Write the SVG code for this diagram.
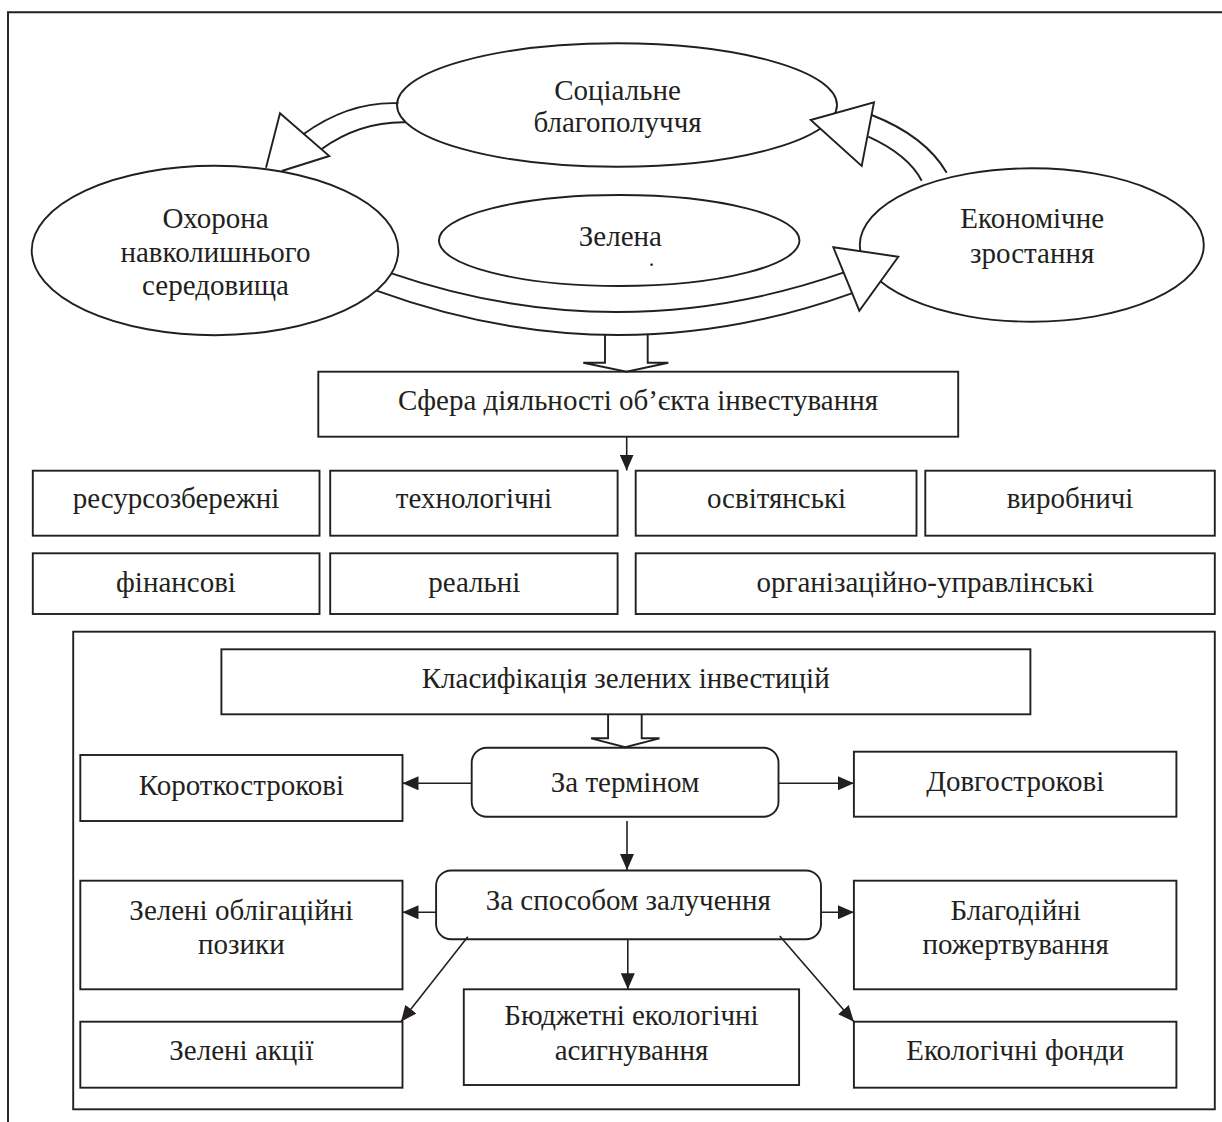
<svg xmlns="http://www.w3.org/2000/svg" width="1222" height="1122" viewBox="0 0 1222 1122">
<defs>
<style>
.s{fill:none;stroke:#231f20;stroke-width:1.9}
.n{fill:#fff;stroke:#231f20;stroke-width:1.9}
.c{fill:none;stroke:#231f20;stroke-width:1.6}
.h{fill:#fff;stroke:#231f20;stroke-width:1.9;stroke-linejoin:miter}
.t{font-family:"Liberation Serif","Times New Roman",serif;font-size:29px;fill:#231f20;text-anchor:middle}
.d{font-family:"Liberation Serif","Times New Roman",serif;font-size:16px;font-weight:bold;fill:#231f20;text-anchor:middle}
</style>
<marker id="ah" viewBox="0 0 16 14" refX="16" refY="7" markerWidth="16" markerHeight="14" orient="auto" markerUnits="userSpaceOnUse">
<path d="M0,0 L16,7 L0,14 Z" fill="#231f20"/>
</marker>
</defs>
<rect width="1222" height="1122" fill="#fff"/>
<path class="s" d="M8,1122 V12.3 H1222"/>

<g id="node-social">
<ellipse class="n" cx="617" cy="105" rx="220" ry="61.7"/>
<text class="t" x="617.5" y="99.5">Соціальне</text>
<text class="t" x="617.5" y="131.7">благополуччя</text>
</g>
<g id="node-environment">
<ellipse class="n" cx="215" cy="250.5" rx="183.3" ry="84.7"/>
<text class="t" x="215.5" y="228.3">Охорона</text>
<text class="t" x="215.5" y="261.7">навколишнього</text>
<text class="t" x="215.5" y="295">середовища</text>
</g>
<g id="node-green">
<ellipse class="n" cx="619.2" cy="240.5" rx="180.3" ry="45.5"/>
<text class="t" x="620.4" y="246">Зелена</text>
<text class="d" x="651.6" y="266">.</text>
</g>
<g id="node-economic">
<ellipse class="n" cx="1031.8" cy="245" rx="172" ry="76.7"/>
<text class="t" x="1032.2" y="228.3">Економічне</text>
<text class="t" x="1032.2" y="263.3">зростання</text>
</g>

<g id="node-sphere">
<rect class="n" x="318.3" y="371.7" width="639.9" height="65"/>
<text class="t" x="638" y="410">Сфера діяльності об’єкта інвестування</text>
</g>
<g id="node-resource">
<rect class="n" x="32.8" y="470.7" width="286.7" height="65"/>
<text class="t" x="176" y="508.3">ресурсозбережні</text>
</g>
<g id="node-tech">
<rect class="n" x="330.2" y="470.7" width="287.4" height="65"/>
<text class="t" x="474" y="508.3">технологічні</text>
</g>
<g id="node-edu">
<rect class="n" x="635.7" y="470.7" width="280.8" height="65"/>
<text class="t" x="776.5" y="508.3">освітянські</text>
</g>
<g id="node-prod">
<rect class="n" x="925.3" y="470.7" width="289.5" height="65"/>
<text class="t" x="1070" y="508.3">виробничі</text>
</g>
<g id="node-fin">
<rect class="n" x="32.8" y="553.3" width="286.7" height="60.7"/>
<text class="t" x="176" y="591.7">фінансові</text>
</g>
<g id="node-real">
<rect class="n" x="330.2" y="553.3" width="287.4" height="60.7"/>
<text class="t" x="474.3" y="591.7">реальні</text>
</g>
<g id="node-org">
<rect class="n" x="635.7" y="553.3" width="579.1" height="60.7"/>
<text class="t" x="925.3" y="591.7">організаційно-управлінські</text>
</g>

<g id="node-frame">
<rect class="s" x="73.2" y="631.7" width="1141.6" height="477.6"/>
</g>
<g id="node-class">
<rect class="n" x="221.4" y="649.3" width="809" height="65"/>
<text class="t" x="625.7" y="688.3">Класифікація зелених інвестицій</text>
</g>
<g id="node-term">
<rect class="n" x="471.7" y="747.7" width="306.8" height="69" rx="15" ry="15"/>
<text class="t" x="625" y="792">За терміном</text>
</g>
<g id="node-short">
<rect class="n" x="80.3" y="755" width="322.2" height="66"/>
<text class="t" x="241.4" y="795">Короткострокові</text>
</g>
<g id="node-long">
<rect class="n" x="853.9" y="751.7" width="322.5" height="65"/>
<text class="t" x="1015.2" y="791">Довгострокові</text>
</g>
<g id="node-method">
<rect class="n" x="436.1" y="870.5" width="384.9" height="68.8" rx="15" ry="15"/>
<text class="t" x="628.3" y="910">За способом залучення</text>
</g>
<g id="node-bonds">
<rect class="n" x="80.3" y="880.7" width="322.2" height="108.6"/>
<text class="t" x="241.4" y="920">Зелені облігаційні</text>
<text class="t" x="241.4" y="954">позики</text>
</g>
<g id="node-charity">
<rect class="n" x="853.9" y="880.7" width="322.5" height="108.6"/>
<text class="t" x="1015.6" y="920">Благодійні</text>
<text class="t" x="1015.6" y="954">пожертвування</text>
</g>
<g id="node-shares">
<rect class="n" x="80.3" y="1021.7" width="322.2" height="66"/>
<text class="t" x="241.4" y="1060">Зелені акції</text>
</g>
<g id="node-budget">
<rect class="n" x="463.8" y="989.3" width="335.3" height="95.7"/>
<text class="t" x="631.5" y="1025">Бюджетні екологічні</text>
<text class="t" x="631.5" y="1060">асигнування</text>
</g>
<g id="node-funds">
<rect class="n" x="853.9" y="1021.7" width="322.5" height="66"/>
<text class="t" x="1015.2" y="1060">Екологічні фонди</text>
</g>

<g id="connectors">
<path class="s" d="M398.3,103.3 Q349.2,101.2 303.3,134.3"/>
<path class="s" d="M405.8,122.3 Q360.2,121.4 321.7,149"/>
<path class="s" d="M266,167.7 L280,113.3 L329.3,156 L281.7,171"/>

<path class="s" d="M946.7,172.7 Q925.4,136.1 871.7,115"/>
<path class="s" d="M921.7,180.7 Q908,154.7 868.3,136.7"/>
<polygon class="h" points="810.7,120 874,102.3 861.7,166"/>

<path class="s" d="M391.5,273.3 Q618.4,351 843.3,272.7"/>
<path class="s" d="M376.5,290.7 Q615.6,378 851.7,293.3"/>
<polygon class="h" points="833.3,247.3 898.3,256.7 859.3,310.7"/>

<path class="s" d="M605,334.8 V362.7 H583.3 L626.5,371.7 L668.3,362.7 H647.7 V334.3"/>
<line class="c" x1="626.7" y1="436.7" x2="626.7" y2="470.5" marker-end="url(#ah)"/>

<path class="s" d="M608.1,714.3 V738.3 H591.1 L625.2,747.2 L659.5,738.3 H641.7 V714.3"/>
<line class="c" x1="471.7" y1="783.3" x2="402.5" y2="783.3" marker-end="url(#ah)"/>
<line class="c" x1="778.5" y1="783.3" x2="853.9" y2="783.3" marker-end="url(#ah)"/>
<line class="c" x1="627" y1="821" x2="627" y2="870" marker-end="url(#ah)"/>
<line class="c" x1="436.1" y1="912.3" x2="402.5" y2="912.3" marker-end="url(#ah)"/>
<line class="c" x1="821" y1="912.3" x2="853.9" y2="912.3" marker-end="url(#ah)"/>
<line class="c" x1="627.8" y1="939.3" x2="627.8" y2="989.3" marker-end="url(#ah)"/>
<line class="c" x1="467.8" y1="936.7" x2="401" y2="1021.7" marker-end="url(#ah)"/>
<line class="c" x1="779.7" y1="936" x2="853.9" y2="1021.7" marker-end="url(#ah)"/>
</g>
</svg>
